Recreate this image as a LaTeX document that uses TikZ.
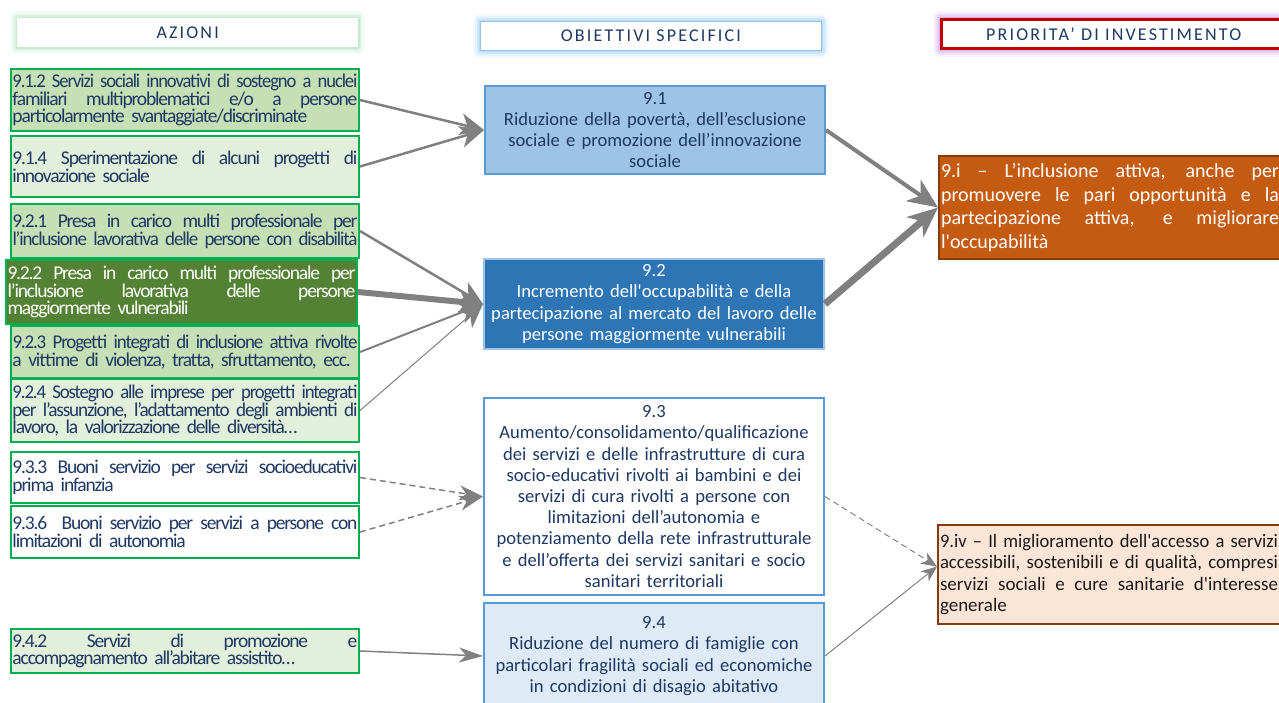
\documentclass[tikz,border=0pt]{standalone}
\usepackage{fontspec}
\setmainfont{Carlito}
\newfontfamily\hdrfont[LetterSpace=12]{Carlito}
\newfontfamily\condfont[LetterSpace=-6]{Carlito}
\usetikzlibrary{arrows.meta,backgrounds}

\definecolor{navy}{HTML}{1F3864}
\definecolor{agreen}{HTML}{00B050}
\definecolor{gmid}{HTML}{C5E0B4}
\definecolor{glight}{HTML}{E2EFDA}
\definecolor{gdark}{HTML}{548235}
\definecolor{oblue}{HTML}{5B9BD5}
\definecolor{bmid}{HTML}{9DC3E6}
\definecolor{bdark}{HTML}{2E75B6}
\definecolor{blight}{HTML}{DEEBF7}
\definecolor{rust}{HTML}{C55A11}
\definecolor{rustdk}{HTML}{843C0C}
\definecolor{peach}{HTML}{FBE5D6}
\definecolor{arrgray}{HTML}{808080}
\definecolor{glowgreen}{HTML}{A9DFB9}
\definecolor{glowblue}{HTML}{8CC8F5}
\definecolor{glowpurple}{HTML}{C58CE6}
\definecolor{hdrred}{HTML}{C00000}
\definecolor{darktext}{HTML}{1A1A1A}

% justified line of a given width: stretch spaces, or squeeze if too long
\newdimen\fitw
\fitw=345pt
\newcommand\jline[1]{\leavevmode\setbox0=\hbox{#1}%
  \ifdim\wd0>\fitw\resizebox{\fitw}{\height}{#1}%
  \else\hbox to\fitw{\spaceskip=\fontdimen2\font plus 1fil\relax
    \xspaceskip=\spaceskip #1}\fi}
\newcommand\lline[1]{\leavevmode\setbox0=\hbox{#1}%
  \ifdim\wd0>\fitw\resizebox{\fitw}{\height}{#1}\else\box0\fi}
\newcommand\sq{\textquotesingle}

\newcommand\lfont{\condfont\fontsize{19.5}{17.6}\selectfont}
\newcommand\cfont{\fontsize{18.6}{21.2}\selectfont\hyphenpenalty=10000\relax}

\tikzset{
  hdr/.style={anchor=north west, fill=white, inner sep=0pt, text=navy,
    font=\hdrfont\fontsize{18}{20}\selectfont},
  abox/.style={anchor=north west, draw=agreen, line width=2pt, inner xsep=1.5pt,
    inner ysep=0pt, text width=345pt, align=left, text=navy, font=\lfont,
    execute at begin node={\fitw=345pt\relax}},
  obox/.style={anchor=north west, draw=oblue, line width=2pt, inner xsep=1pt,
    inner ysep=0pt, minimum width=340pt, text width=338pt, align=center,
    text=navy, font=\cfont},
  pbox/.style={anchor=north west, draw=rustdk, line width=2pt, inner xsep=2pt,
    inner ysep=0pt, text width=338pt, align=left,
    execute at begin node={\fitw=338pt\relax}},
  conn/.style={draw=arrgray},
  dash6/.style={dash pattern=on 6pt off 4pt},
  tipbig/.style={-{Stealth[length=24pt,width=22pt,inset=7pt]}},
  tiphuge/.style={-{Stealth[length=30pt,width=26pt,inset=9pt]}},
  tipmid/.style={-{Stealth[length=24pt,width=15pt,inset=7pt]}},
  tipsmall/.style={-{Stealth[length=16pt,width=13pt,inset=5pt]}},
}

\begin{document}
\begin{tikzpicture}[x=1pt,y=-1pt]
\useasboundingbox (0,0) rectangle (1279,702);

% column headers
\node[hdr, minimum width=341pt, minimum height=29pt] (hA) at (17,18) {AZIONI};
\node[hdr, draw=bmid, line width=0.8pt, minimum width=341pt, minimum height=29pt] (hO) at (480,21) {OBIETTIVI SPECIFICI};
\node[hdr, draw=hdrred, line width=2.5pt, minimum width=345pt, minimum height=29pt] (hP) at (940,18) {PRIORITA’ DI INVESTIMENTO};

\begin{scope}[on background layer]
  \foreach \n/\c in {hA/glowgreen,hO/glowblue,hP/glowpurple}{
    \foreach \w/\o in {14/0.10,10/0.15,6/0.25,3/0.4}{
      \draw[\c, line width=\w pt, opacity=\o, line join=round]
        (\n.north west) rectangle (\n.south east);
    }
  }
\end{scope}

% actions
\node[abox, fill=gmid, minimum height=62pt] (a912) at (10,68)
  {\jline{9.1.2 Servizi sociali innovativi di sostegno a nuclei}\\\jline{familiari multiproblematici e/o a persone}\\\lline{particolarmente svantaggiate/discriminate}};
\node[abox, fill=glight, minimum height=61pt] (a914) at (10,135)
  {\jline{9.1.4 Sperimentazione di alcuni progetti di}\\\lline{innovazione sociale}};
\node[abox, fill=gmid, minimum height=54pt] (a921) at (10,203)
  {\jline{9.2.1 Presa in carico multi professionale per}\\\lline{l’inclusione lavorativa delle persone con disabilità}};
\node[abox, fill=gdark, text=white, minimum height=64pt, text width=348pt,
      execute at begin node={\fitw=348pt\relax}] (a922) at (5,259)
  {\jline{9.2.2 Presa in carico multi professionale per}\\\jline{l’inclusione lavorativa delle persone}\\\lline{maggiormente vulnerabili}};
\node[abox, fill=gmid, minimum height=52pt] (a923) at (10,325)
  {\jline{9.2.3 Progetti integrati di inclusione attiva rivolte}\\\lline{a vittime di violenza, tratta, sfruttamento, ecc.}};
\node[abox, fill=glight, minimum height=63pt] (a924) at (10,378)
  {\jline{9.2.4 Sostegno alle imprese per progetti integrati}\\\jline{per l’assunzione, l’adattamento degli ambienti di}\\\lline{lavoro, la valorizzazione delle diversità…}};
\node[abox, fill=white, minimum height=51pt] (a933) at (10,451)
  {\jline{9.3.3 Buoni servizio per servizi socioeducativi}\\\lline{prima infanzia}};
\node[abox, fill=white, minimum height=52pt] (a936) at (10,505)
  {\jline{9.3.6 \ Buoni servizio per servizi a persone con}\\\lline{limitazioni di autonomia}};
\node[abox, fill=glight, minimum height=44pt] (a942) at (10,628)
  {\jline{9.4.2 Servizi di promozione e}\\\lline{accompagnamento all’abitare assistito…}};

% specific objectives
\node[obox, fill=bmid, minimum height=88pt] (o91) at (484,85)
  {9.1\\Riduzione della povertà, dell’esclusione\\sociale e promozione dell’innovazione\\sociale};
\node[obox, draw=bmid, fill=bdark, text=white, minimum height=90pt] (o92) at (483,258)
  {9.2\\Incremento dell\sq occupabilità e della\\partecipazione al mercato del lavoro delle\\persone maggiormente vulnerabili};
\node[obox, fill=white, minimum height=197pt] (o93) at (483,397)
  {9.3\\Aumento/consolidamento/qualificazione\\dei servizi e delle infrastrutture di cura\\socio-educativi rivolti ai bambini e dei\\servizi di cura rivolti a persone con\\limitazioni dell’autonomia e\\potenziamento della rete infrastrutturale\\e dell’offerta dei servizi sanitari e socio\\sanitari territoriali};
\node[obox, fill=blight, minimum height=106pt] (o94) at (483,602)
  {9.4\\Riduzione del numero di famiglie con\\particolari fragilità sociali ed economiche\\in condizioni di disagio abitativo};

% investment priorities
\node[pbox, fill=rust, text=white, minimum height=103pt,
      font=\fontsize{20}{23.8}\selectfont] (p9i) at (938,155)
  {\jline{9.i – L’inclusione attiva, anche per}\\\jline{promuovere le pari opportunità e la}\\\jline{partecipazione attiva, e migliorare}\\\lline{l\sq occupabilità}};
\node[pbox, fill=peach, text=darktext, minimum height=99pt,
      font=\fontsize{19}{21.4}\selectfont] (p9iv) at (937,524)
  {\jline{9.iv – Il miglioramento dell\sq accesso a servizi}\\\jline{accessibili, sostenibili e di qualità, compresi}\\\jline{servizi sociali e cure sanitarie d\sq interesse}\\\lline{generale}};

% actions -> objectives
\draw[conn, line width=2.5pt, tipbig] (a912.east) -- (o91.west);
\draw[conn, line width=2.5pt, tipbig] (a914.east) -- (o91.west);
\draw[conn, line width=2.5pt, tipbig] (a921.east) -- (o92.west);
\draw[conn, line width=6pt, tipbig] (a922.east) -- (o92.west);
\draw[conn, line width=2pt, tipbig] (a923.east) -- (o92.west);
\draw[conn, line width=1pt, tipbig] (a924.east) -- (o92.west);
\draw[conn, dash6, line width=1.5pt, tipmid] (a933.east) -- (o93.west);
\draw[conn, dash6, line width=1.5pt, tipmid] (a936.east) -- (o93.west);
\draw[conn, line width=1.5pt, tipmid] (a942.east) -- (o94.west);

% objectives -> priorities
\draw[conn, line width=4pt, tiphuge] (o91.east) -- (p9i.west);
\draw[conn, line width=7pt, tiphuge] (o92.east) -- (p9i.west);
\draw[conn, dash6, line width=1pt, tipsmall] (o93.east) -- ([yshift=8pt]p9iv.west);
\draw[conn, line width=1pt, tipsmall] (o94.east) -- ([yshift=8pt]p9iv.west);
\end{tikzpicture}
\end{document}
